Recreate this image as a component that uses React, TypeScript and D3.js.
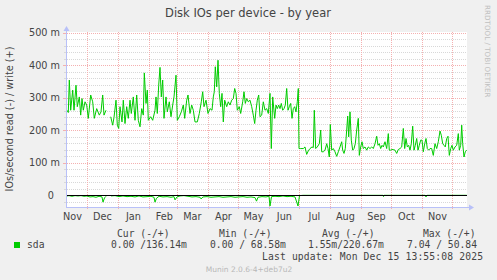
import React from "react";
import * as d3 from "d3";

const START = Date.UTC(2024, 10, 10, 14, 0);
const END = START + 400 * 86400000;

// write (+) series, in milli-IOs/s, by day offset from START
const writeDays = [0,1.3,2.3,3.7,5.7,7,9,10.3,12.3,13.7,15,16.3,18,19.7,21.3,23.7,25.7,27.3,29.7,32.3,34,35.7,37,39,41,43.7,45.7,47,49,50.3,51.7,53,55,56.3,58,59.7,61.3,63,64.3,66.3,68,69.7,71.3,73,74.7,76.3,77.3,79,80.3,81.3,83.7,85.7,88,89,90.3,91.7,93,94.3,95.7,97,99,100.3,102.3,104,105.7,107,109,110.3,112.3,114.3,116.3,117.7,119.7,121,123,124.7,126.3,128,130.3,132.3,134.3,135.7,137,139,141,143,145,146.3,147.3,148.3,149.7,151,152.3,153.7,155,156.3,157.7,159.7,161.3,163,164.7,166.3,167.7,169,170.3,172.3,173.7,175.7,177,178.3,179.7,181.3,183,184.7,186.3,187.7,189,190.3,191.7,193,194.7,196.3,198,199.7,201.3,203,204.3,205.7,207.7,209,210.3,211.7,213,214.3,215.7,217,218.3,219.7,221,222.3,223.7,225,226.3,227.7,229,230.3,231.3,232,233.7,236.3,238,239.7,241.3,243,245,246.3,247.3,248.7,250.3,252.3,253.7,254.7,256.3,258,259.7,261,262.3,263.3,264.7,266.3,268,269.7,271.3,273,274.7,275.7,277,278.3,279.7,280.7,281.7,283,284.3,285.7,287,288.3,289.7,291.3,292.3,293.7,295,296.3,298,299.7,301.3,303,304.7,306.3,308,309.7,311,312.3,313.7,315,316.3,318,319.7,321.3,322.3,323.7,325,326.3,328,329.7,331.3,333,334.7,336.3,337.7,339,340.3,341.7,343,344.3,345.7,347,348.3,349.7,351,352.3,353.7,355,356.3,357.7,359,360.3,361.7,363,364.7,366.3,368,369.7,371.3,373,374.3,375.7,377,378.3,379.7,381,382.3,383.7,385,386.3,388,389.7,391.3,392.3,393.7,394.7,395.7,397,398.3,399.7];
const writeValues = [262,255,355,262,324,262,339,273,303,247,298,262,288,278,237,309,288,237,267,247,257,309,247,262,null,242,216,240,293,216,206,273,226,293,221,273,237,293,252,303,231,309,231,211,267,247,377,283,324,231,242,231,262,303,252,339,394,303,355,237,303,257,288,242,278,303,370,231,242,257,278,237,293,309,252,278,262,226,226,252,288,319,273,293,252,267,262,303,319,396,334,416,314,273,314,226,293,273,288,278,293,298,329,314,262,273,252,288,319,283,298,288,293,273,247,221,262,293,309,242,247,288,262,267,252,314,144,303,237,278,267,278,267,283,262,267,278,329,262,273,283,237,267,273,257,288,329,144,144,144,149,126,137,144,149,147,262,144,149,159,201,134,134,139,159,144,118,218,139,144,134,120,134,149,165,139,129,144,201,244,180,257,170,139,144,159,201,237,123,149,165,144,149,139,149,144,149,144,159,182,154,159,144,154,149,165,144,190,139,139,141,141,139,129,141,144,149,206,144,175,149,154,139,159,213,139,154,175,139,154,170,170,134,159,175,144,139,144,144,123,159,144,165,198,185,159,154,149,175,182,123,144,154,139,149,154,190,139,154,216,159,118,134,139];

// read (-) series, in milli-IOs/s (drawn negative)
const readDays = [0,2,5,8,11,14,17,20,23,26,29,32,35,36,37.5,39,41,44,48,52,56,60,64,68,72,76,80,84,87,88,89.5,92,96,100,104,107,108,110,113,117,121,125,129,133,134,136,140,144,148,152,156,160,164,168,172,176,180,184,188,189.5,191,195,199,202,203,204.5,208,212,216,220,224,228,231,232.5,236,260,300,316,316.5,317,340,358,359,360,380,399.7];
const readValues = [-2,-1,-3,-1,-2,-1,-3,-2,-5,-4,-6,-3,-5,-21,-8,-3,null,-2,-1,-4,-2,-4,-3,-5,-2,-5,-4,-3,-6,-21,-9,-3,-5,-4,-6,-4,-14,-5,-2,-1,-3,-5,-4,-6,-11,-5,-4,-6,-5,-4,-6,-5,-4,-6,-5,-4,-6,-5,-7,-18,-6,-4,-5,-3,-33,-4,-3,-4,-2,-4,-3,-5,-33,-1,0,0,0,0,-4,0,0,0,-5,0,0,0];

const yTicks = [0, 100, 200, 300, 400, 500];
const yTickLabels = ["0", "100 m", "200 m", "300 m", "400 m", "500 m"];
const monthNames = ["Nov","Dec","Jan","Feb","Mar","Apr","May","Jun","Jul","Aug","Sep","Oct","Nov"];

const legendHeaders = ["Cur (-/+)", "Min (-/+)", "Avg (-/+)", "Max (-/+)"];
const legendValues = ["0.00 /136.14m", "0.00 / 68.58m", "1.55m/220.67m", "7.04 / 50.84"];

const X0 = 67, X1 = 467, YT = 32, YB = 207;

export default function App() {
  const x = d3.scaleUtc().domain([new Date(START), new Date(END)]).range([X0, X1]);
  const y = d3.scaleLinear().domain([-36, 503]).range([YB, YT]);
  const toDate = (d: number) => new Date(START + d * 86400000);

  const line = d3.line<[number, number | null]>()
    .defined((p) => p[1] !== null)
    .x((p) => x(toDate(p[0])))
    .y((p) => y(p[1] as number));

  const writePts = writeDays.map((d, i) => [d, writeValues[i]] as [number, number | null]);
  const readPts = readDays.map((d, i) => [d, readValues[i]] as [number, number | null]);

  const minor: number[] = [];
  for (let v = -20; v <= 500; v += 20) if (v % 100 !== 0) minor.push(v);
  const majors = yTicks.filter((v) => v !== 0);

  const monthLines = d3.utcMonth.range(new Date(START), new Date(END));
  const monthStarts = d3.utcMonth.range(new Date(Date.UTC(2024, 10, 1)), new Date(Date.UTC(2025, 11, 1)));

  const sans = "DejaVu Sans, sans-serif";
  const mono = "DejaVu Sans Mono, monospace";
  const axisCol = "#b8c0f8";
  const majCol = "#f4b0b0";
  const minCol = "#d8d8d8";

  return (
    <svg width={497} height={280} style={{ position: "absolute", left: 0, top: 0 }}>
      <rect x={0} y={0} width={497} height={280} fill="#f0f0f0" />
      <rect x={X0} y={YT} width={X1 - X0} height={YB - YT} fill="#ffffff" />
      {minor.map((v) => (
        <g key={"mi" + v}>
          <line x1={X0} x2={X1} y1={Math.round(y(v)) + 0.5} y2={Math.round(y(v)) + 0.5} stroke={minCol} strokeDasharray="1,1" />
          <line x1={X0 - 3} x2={X0 - 1} y1={Math.round(y(v)) + 0.5} y2={Math.round(y(v)) + 0.5} stroke={minCol} />
        </g>
      ))}
      {majors.map((v) => (
        <g key={"ma" + v}>
          <line x1={X0} x2={X1} y1={Math.round(y(v)) + 0.5} y2={Math.round(y(v)) + 0.5} stroke={majCol} strokeDasharray="1,1" />
          <line x1={X0 - 4} x2={X0 - 1} y1={Math.round(y(v)) + 0.5} y2={Math.round(y(v)) + 0.5} stroke={majCol} />
        </g>
      ))}
      {monthLines.map((m) => (
        <line key={"ml" + m.getTime()} x1={Math.round(x(m)) + 0.5} x2={Math.round(x(m)) + 0.5} y1={YT} y2={YB + 2} stroke={majCol} strokeDasharray="1,1" />
      ))}
      <path d={line(readPts) || ""} fill="none" stroke="#00cc00" strokeWidth={1} />
      <path d={line(writePts) || ""} fill="none" stroke="#00cc00" strokeWidth={1} />
      <line x1={X0} x2={X1} y1={Math.round(y(0)) + 0.5} y2={Math.round(y(0)) + 0.5} stroke="#000000" strokeWidth={1} />
      {/* axes */}
      <line x1={X0 - 0.5} x2={X0 - 0.5} y1={YB + 1} y2={YT - 4} stroke={axisCol} />
      <path d={`M${X0 - 3.5},${YT - 1} L${X0 - 0.5},${YT - 6} L${X0 + 2.5},${YT - 1} Z`} fill={axisCol} />
      <line x1={X0 - 1} x2={X1 + 4} y1={YB + 0.5} y2={YB + 0.5} stroke={axisCol} />
      <path d={`M${X1 + 2},${YB - 2.5} L${X1 + 7},${YB + 0.5} L${X1 + 2},${YB + 3.5} Z`} fill={axisCol} />
      {/* y labels */}
      {yTicks.map((v, i) => (
        <text key={"yl" + v} x={v === 0 ? 54 : 60} y={y(v) + 3.5} textAnchor="end" fontFamily={sans} fontSize={9.7} fill="#444">
          {yTickLabels[i]}
        </text>
      ))}
      {/* x labels */}
      {monthStarts.map((m, i) => {
        const t = new Date(m.getTime() + 15 * 86400000);
        const px = x(t);
        if (px > X1) return null;
        return (
          <text key={"xl" + i} x={px} y={220} textAnchor="middle" fontFamily={sans} fontSize={9.7} fill="#444">
            {monthNames[i]}
          </text>
        );
      })}
      <text x={248} y={17} textAnchor="middle" fontFamily={sans} fontSize={11.5} fill="#444">
        Disk IOs per device - by year
      </text>
      <text transform="translate(13,119) rotate(-90)" textAnchor="middle" fontFamily={sans} fontSize={9.7} fill="#444">
        IOs/second read (-) / write (+)
      </text>
      <text transform="translate(485,5) rotate(90)" textAnchor="start" fontFamily={sans} fontSize={7.2} fill="#c0c0c0">
        RRDTOOL / TOBI OETIKER
      </text>
      {/* legend */}
      {legendHeaders.map((h, i) => (
        <text key={"lh" + i} x={[117, 219, 322, 423][i]} y={237} fontFamily={mono} fontSize={9.7} fill="#444" style={{ whiteSpace: "pre" }}>
          {h}
        </text>
      ))}
      <rect x={14} y={242} width={6} height={6} fill="#00cc00" />
      <text x={27} y={248} fontFamily={mono} fontSize={9.7} fill="#444">sda</text>
      {legendValues.map((v, i) => (
        <text key={"lv" + i} x={[111, 210, 308, 407][i]} y={248} fontFamily={mono} fontSize={9.7} fill="#444" style={{ whiteSpace: "pre" }}>
          {v}
        </text>
      ))}
      <text x={262} y={260} textAnchor="start" textLength={221} fontFamily={mono} fontSize={9.7} fill="#444" style={{ whiteSpace: "pre" }}>
        Last update: Mon Dec 15 13:55:08 2025
      </text>
      <text x={249} y={272} textAnchor="middle" fontFamily={sans} fontSize={7.5} fill="#b8b8b8">
        Munin 2.0.6-4+deb7u2
      </text>
    </svg>
  );
}
